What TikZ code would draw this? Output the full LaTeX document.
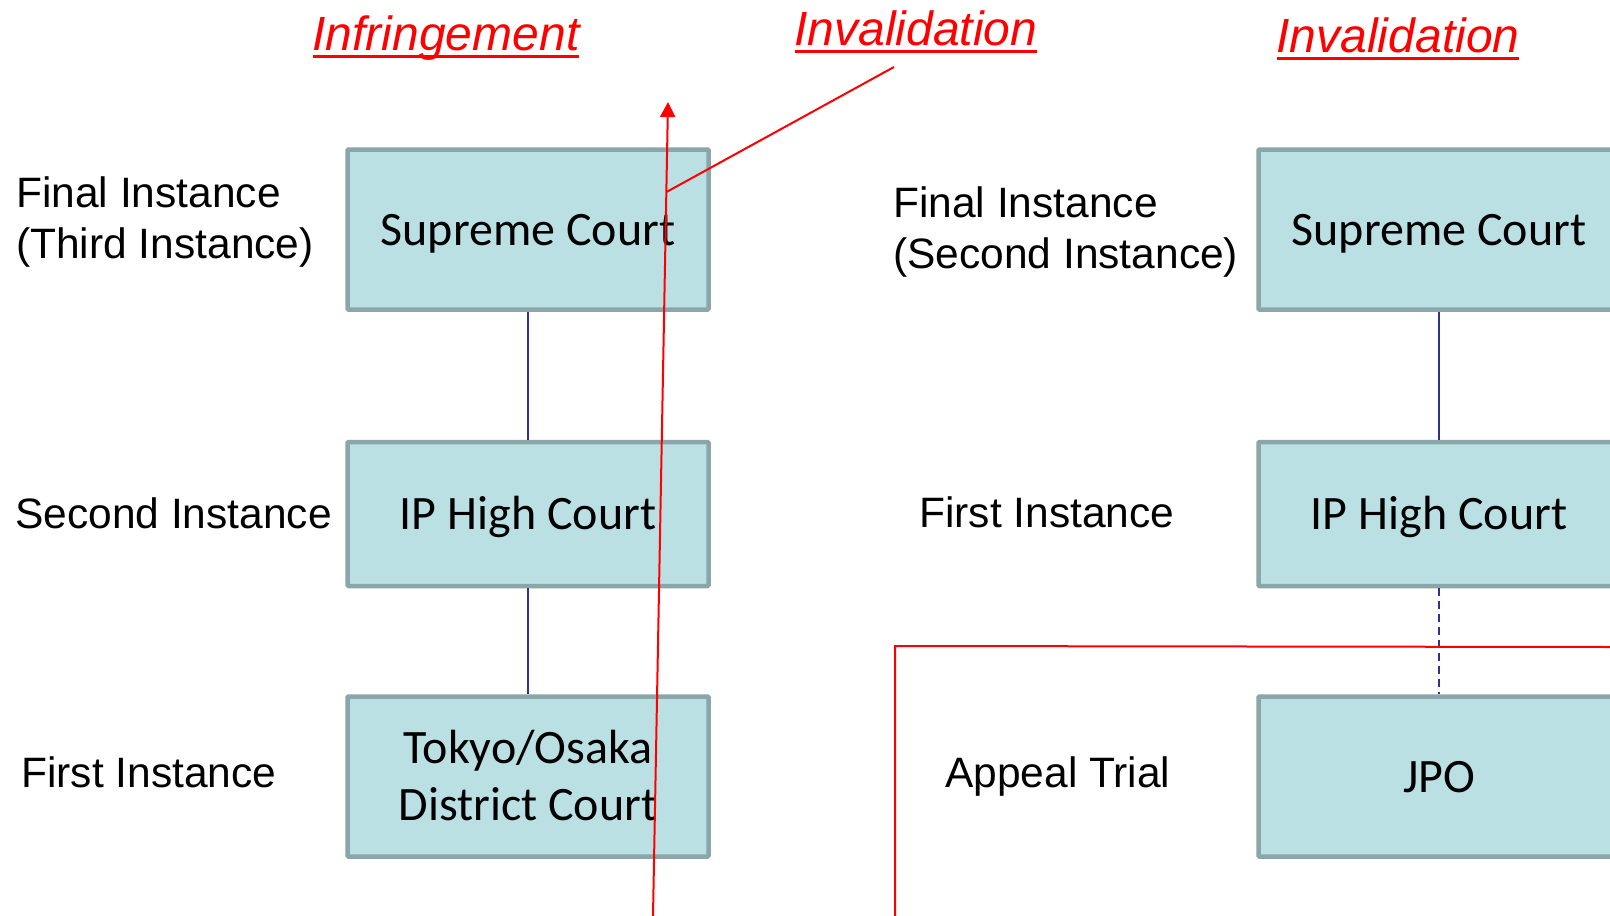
\documentclass[tikz,border=0pt]{standalone}
\usepackage{fontspec}
\setmainfont{Liberation Sans}
\newfontfamily\calibrif{Carlito}
\usetikzlibrary{positioning,arrows.meta}
\definecolor{boxfill}{RGB}{187,224,227}
\definecolor{boxline}{RGB}{138,166,168}
\definecolor{linkblue}{RGB}{46,49,146}
\newcommand{\redul}[1]{\setbox0\hbox{#1}\rlap{\rule[-8pt]{\wd0}{3pt}}\box0}

\begin{document}
\begin{tikzpicture}[x=1pt,y=-1pt,
  court/.style={draw=boxline,fill=boxfill,line width=4.5pt,rounded corners=1pt,minimum width=361pt,inner sep=0pt,
    text height=31pt,text depth=0pt,align=center,font=\calibrif\fontsize{48}{57}\selectfont},
  lvl/.style={anchor=base west,align=left,inner sep=0pt,font=\fontsize{42.5}{51}\selectfont},
  title/.style={anchor=base,inner sep=0pt,text=red,font=\itshape\fontsize{48}{56}\selectfont},
  link/.style={draw=linkblue,line width=1.8pt},
  redline/.style={draw=red,line width=2pt}]
\useasboundingbox (0,0) rectangle (1610,916);
\clip (0,0) rectangle (1610,916);
\fill[white] (0,0) rectangle (1610,916);

\node[court,minimum height=160pt] (sc1) at (528,229.5) {Supreme Court};
\node[court,minimum height=144pt,below=128pt of sc1] (ip1) {IP High Court};
\node[court,minimum height=160pt,text height=88pt,below=106pt of ip1] (dc1) {Tokyo/Osaka\\District Court};
\node[court,minimum height=160pt] (sc2) at (1439,229.5) {Supreme Court};
\node[court,minimum height=144pt,below=128pt of sc2] (ip2) {IP High Court};
\node[court,minimum height=160pt,below=106pt of ip2] (jpo) {JPO};

\node[lvl] (fi1) at (16,258) {Final Instance\\(Third Instance)};
\node[lvl] (si1) at (15,528) {Second Instance};
\node[lvl] (fs1) at (21,787) {First Instance};
\node[lvl] (fi2) at (893,268) {Final Instance\\(Second Instance)};
\node[lvl] (fs2) at (919,527) {First Instance};
\node[lvl] (ap2) at (945,787) {Appeal Trial};

\node[title] (inf) at (446,50) {\redul{Infringement}};
\node[title] (inv1) at (916,45) {\redul{Invalidation}};
\node[title] (inv2) at (1398,52) {\redul{Invalidation}};

\draw[link] (sc1) -- (ip1);
\draw[link] (ip1) -- (dc1);
\draw[link] (sc2) -- (ip2);
\draw[link,dash pattern=on 8pt off 5pt] (ip2) -- (jpo);

\coordinate (rb) at (653,916);
\coordinate (rt) at (668,102);
\coordinate (rj) at (666.5,192);
\coordinate (rs) at (894,67);
\draw[redline,-{Triangle[width=15pt,length=15pt]}] (rb) -- (rt);
\draw[redline] (rs) -- (rj);
\coordinate (lb) at (895,916);
\coordinate (lc) at (895,646);
\coordinate (lr) at (1610,647);
\draw[redline] (lb) -- (lc) -- (lr);
\end{tikzpicture}
\end{document}
